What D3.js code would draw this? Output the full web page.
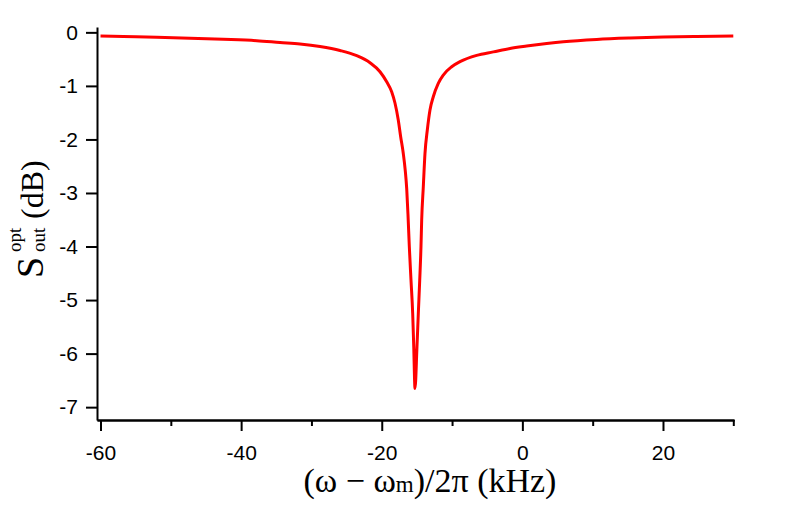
<!DOCTYPE html>
<meta charset="utf-8">
<title>Output spectrum</title>
<style>
    body { margin: 0; background: #fff; }
    .axis path, .axis line { stroke: #000; stroke-width: 2px; }
    .axis text { font-family: "Liberation Sans", Arial, sans-serif; font-size: 21px; fill: #000; }
    .label { font-family: "Liberation Serif", "Times New Roman", serif; fill: #000; }
    .line { fill: none; stroke: #ff0000; stroke-width: 3px; }
</style>
<body>
<div id="chart"></div>
<script src="https://d3js.org/d3.v7.min.js"></script>
<script>

// detuning (kHz) and output spectrum (dB)
var detuning = [-60, -56.76, -52.01, -47.27, -42.54, -37.79, -34.47, -31.63, -28.78, -25.94,
    -23.56, -21.67, -20.25, -19.30, -18.59, -18.12, -17.65, -17.31, -16.94, -16.65,
    -16.45, -16.27, -16.08, -15.84, -15.60, -15.45, -15.27, -14.99, -14.80, -14.60,
    -14.42, -14.32, -14.09, -13.85, -13.52, -13.14, -12.67, -11.96, -11.25, -10.05,
    -8.87, -6.50, -4.13, -1.76, 0.61, 3.46, 5.82, 10.57, 15.31, 20.04, 24.79, 30];
var spectrum = [-0.068, -0.078, -0.092, -0.110, -0.130, -0.156, -0.190, -0.218, -0.265, -0.338,
    -0.435, -0.567, -0.735, -0.922, -1.108, -1.320, -1.637, -1.949, -2.259, -2.590,
    -2.920, -3.400, -4.000, -4.630, -5.250, -5.870, -6.650, -5.870, -5.250, -4.630,
    -4.000, -3.505, -2.883, -2.259, -1.824, -1.450, -1.202, -0.952, -0.797, -0.642,
    -0.548, -0.430, -0.365, -0.300, -0.255, -0.208, -0.175, -0.132, -0.106, -0.088, -0.078, -0.067];

var xMajor = [-60, -40, -20, 0, 20];
var xMinor = [-50, -30, -10, 10, 30];
var yTicks = [0, -1, -2, -3, -4, -5, -6, -7];

var W = 789, H = 507;

var svg = d3.select("#chart").append("svg")
    .attr("width", W)
    .attr("height", H);

// scales
var x = d3.scaleLinear().domain([-60.5, 30.1]).range([97, 734]);
var y = d3.scaleLinear().domain([-7.24, 0.1]).range([420, 27]);

// plain hyphen for negative numbers, like the figure
var fmt = function (d) { return String(d); };

// the curve
var valueline = d3.line()
    .x(function (d) { return x(d[0]); })
    .y(function (d) { return y(d[1]); })
    .curve(d3.curveMonotoneX);

svg.append("path")
    .datum(d3.zip(detuning, spectrum))
    .attr("class", "line")
    .attr("d", valueline);

// x axis, minor ticks first then major ticks with labels
svg.append("g")
    .attr("class", "axis")
    .attr("transform", "translate(0," + 420 + ")")
    .call(d3.axisBottom(x).tickValues(xMinor).tickSize(6).tickSizeOuter(0).tickFormat(""));

svg.append("g")
    .attr("class", "axis")
    .attr("transform", "translate(0," + 420 + ")")
    .call(d3.axisBottom(x).tickValues(xMajor).tickSize(11).tickSizeOuter(0).tickPadding(14).tickFormat(fmt));

// y axis
svg.append("g")
    .attr("class", "axis")
    .attr("transform", "translate(" + 97 + ",0)")
    .call(d3.axisLeft(y).tickValues(yTicks).tickSize(11).tickSizeOuter(0).tickPadding(8).tickFormat(fmt));

svg.selectAll(".axis text").attr("font-family", null).attr("font-size", null);

// x axis title
var xt = svg.append("text")
    .attr("class", "label")
    .attr("x", 430)
    .attr("y", 492)
    .attr("text-anchor", "middle")
    .style("font-size", "34px");
xt.append("tspan").text("(\u03c9 \u2212 \u03c9");
xt.append("tspan").style("font-size", "23px").text("m");
xt.append("tspan").text(")/2\u03c0 (kHz)");

// y axis title
var yl = svg.append("g")
    .attr("transform", "translate(43,278) rotate(-90)");
yl.append("text").attr("class", "label").attr("x", 0).attr("y", 0)
    .style("font-size", "38px").text("S");
yl.append("text").attr("class", "label").attr("x", 26).attr("y", 2)
    .style("font-size", "19px").text("out");
yl.append("text").attr("class", "label").attr("x", 26).attr("y", -22)
    .style("font-size", "19px").text("opt");
yl.append("text").attr("class", "label").attr("x", 59).attr("y", 0)
    .style("font-size", "32px").text("(dB)");

</script>
</body>
